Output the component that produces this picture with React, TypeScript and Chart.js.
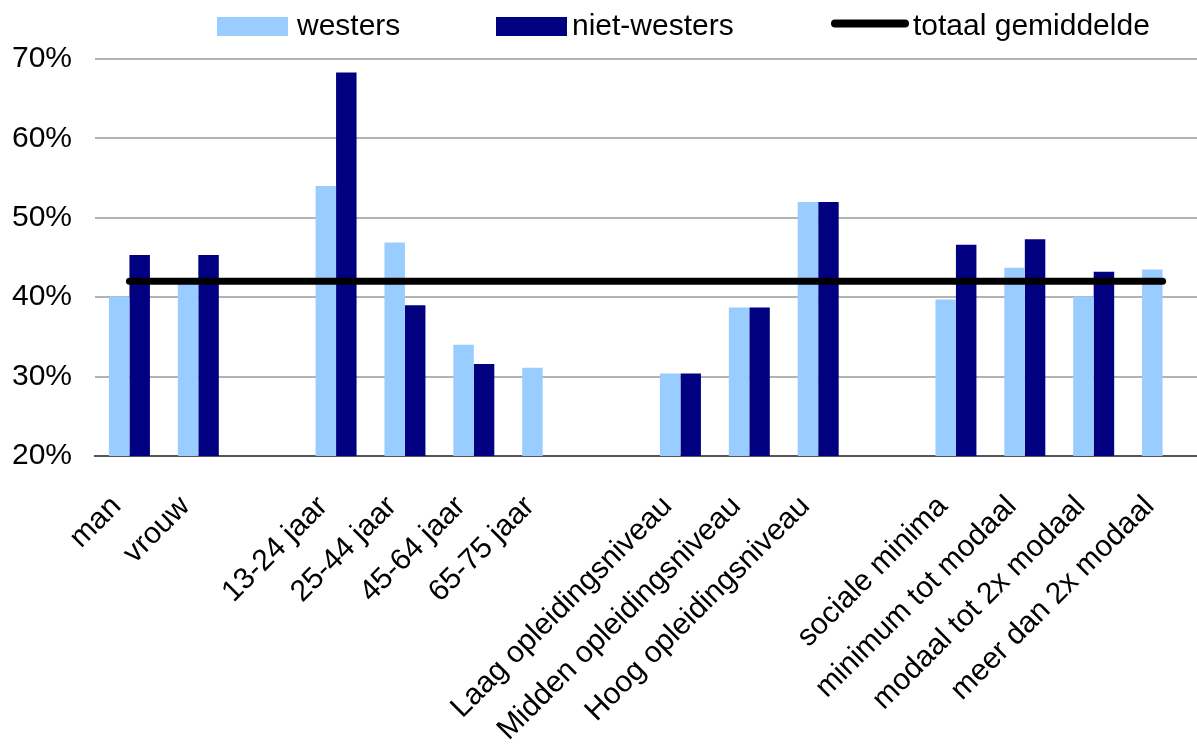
import React, { useEffect, useRef } from "react";
import { Chart, registerables } from "chart.js";

Chart.register(...registerables);

// Categories, with empty slots separating the groups
const categories: string[] = [
  "man",
  "vrouw",
  "",
  "13-24 jaar",
  "25-44 jaar",
  "45-64 jaar",
  "65-75 jaar",
  "",
  "Laag opleidingsniveau",
  "Midden opleidingsniveau",
  "Hoog opleidingsniveau",
  "",
  "sociale minima",
  "minimum tot modaal",
  "modaal tot 2x modaal",
  "meer dan 2x modaal",
];

const westers: (number | null)[] = [
  40.1, 41.8, null, 54.0, 46.9, 34.0, 31.1, null, 30.4, 38.7, 52.0, null, 39.7, 43.7, 40.1, 43.5,
];

const nietWesters: (number | null)[] = [
  45.3, 45.3, null, 68.3, 39.0, 31.6, null, null, 30.4, 38.7, 52.0, null, 46.6, 47.3, 43.2, null,
];

const totaalGemiddelde = 42;

const yTicks: number[] = [20, 30, 40, 50, 60, 70];

const FONT = "'Liberation Sans', Arial, sans-serif";

// Legend drawn across the top of the canvas
const topLegend = {
  id: "topLegend",
  afterDraw(chart: Chart) {
    const ctx = chart.ctx;
    const items = [
      { kind: "box", x: 217, textX: 297, ds: 0 },
      { kind: "box", x: 496, textX: 572, ds: 1 },
      { kind: "line", x: 832, textX: 913, ds: 2 },
    ];
    ctx.save();
    ctx.font = `30px ${FONT}`;
    ctx.textBaseline = "alphabetic";
    ctx.textAlign = "left";
    for (const it of items) {
      const ds: any = chart.data.datasets[it.ds];
      if (it.kind === "box") {
        ctx.fillStyle = ds.backgroundColor;
        ctx.fillRect(it.x, 17, 71, 19);
      } else {
        ctx.strokeStyle = ds.borderColor;
        ctx.lineWidth = 8;
        ctx.lineCap = "round";
        ctx.beginPath();
        ctx.moveTo(it.x + 3, 23.5);
        ctx.lineTo(it.x + 73, 23.5);
        ctx.stroke();
      }
      ctx.fillStyle = "#000";
      ctx.fillText(ds.label, it.textX, 35);
    }
    ctx.restore();
  },
};

export default function App() {
  const canvasRef = useRef<HTMLCanvasElement | null>(null);

  useEffect(() => {
    if (!canvasRef.current) return;
    Chart.defaults.font.family = FONT;
    Chart.defaults.color = "#000";

    const chart = new Chart(canvasRef.current, {
      type: "bar",
      data: {
        labels: categories,
        datasets: [
          {
            type: "bar",
            label: "westers",
            data: westers,
            backgroundColor: "#99CCFF",
            borderWidth: 0,
            order: 1,
          },
          {
            type: "bar",
            label: "niet-westers",
            data: nietWesters,
            backgroundColor: "#000080",
            borderWidth: 0,
            order: 1,
          },
          {
            type: "line",
            label: "totaal gemiddelde",
            data: categories.map(() => totaalGemiddelde),
            borderColor: "#000",
            backgroundColor: "#000",
            borderWidth: 7,
            borderCapStyle: "round",
            pointRadius: 0,
            fill: false,
            order: 0,
          } as any,
        ],
      },
      options: {
        responsive: false,
        animation: false,
        events: [],
        layout: { padding: { top: 59, right: 0, left: 0, bottom: 0 } },
        datasets: {
          bar: { barPercentage: 1, categoryPercentage: 0.595 },
        },
        plugins: {
          legend: { display: false },
          tooltip: { enabled: false },
        },
        scales: {
          x: {
            grid: { display: false, drawTicks: false },
            border: { display: true, color: "#555", width: 2 },
            ticks: {
              autoSkip: false,
              maxRotation: 45,
              minRotation: 45,
              padding: 33,
              labelOffset: -13,
              font: { size: 30 },
              color: "#000",
            },
            afterFit(scale: any) {
              scale.height = 289;
              scale.paddingRight = 0;
              scale.paddingLeft = 0;
            },
          },
          y: {
            min: 20,
            max: 70,
            afterBuildTicks(scale: any) {
              scale.ticks = yTicks.map((v) => ({ value: v }));
            },
            grid: {
              drawTicks: false,
              color: (c: any) => (c.tick && c.tick.value === 20 ? "rgba(0,0,0,0)" : "#b3b3b3"),
              lineWidth: 2,
            },
            border: { display: false },
            ticks: {
              padding: 23,
              font: { size: 30 },
              color: "#000",
              callback: (v: any) => `${v}%`,
            },
            afterFit(scale: any) {
              scale.width = 95;
            },
          },
        },
      },
      plugins: [topLegend],
    });

    return () => chart.destroy();
  }, []);

  return (
    <div style={{ position: "absolute", left: 0, top: 0, width: 1197, height: 745, background: "#fff" }}>
      <canvas ref={canvasRef} width={1197} height={745} style={{ display: "block" }} />
    </div>
  );
}
